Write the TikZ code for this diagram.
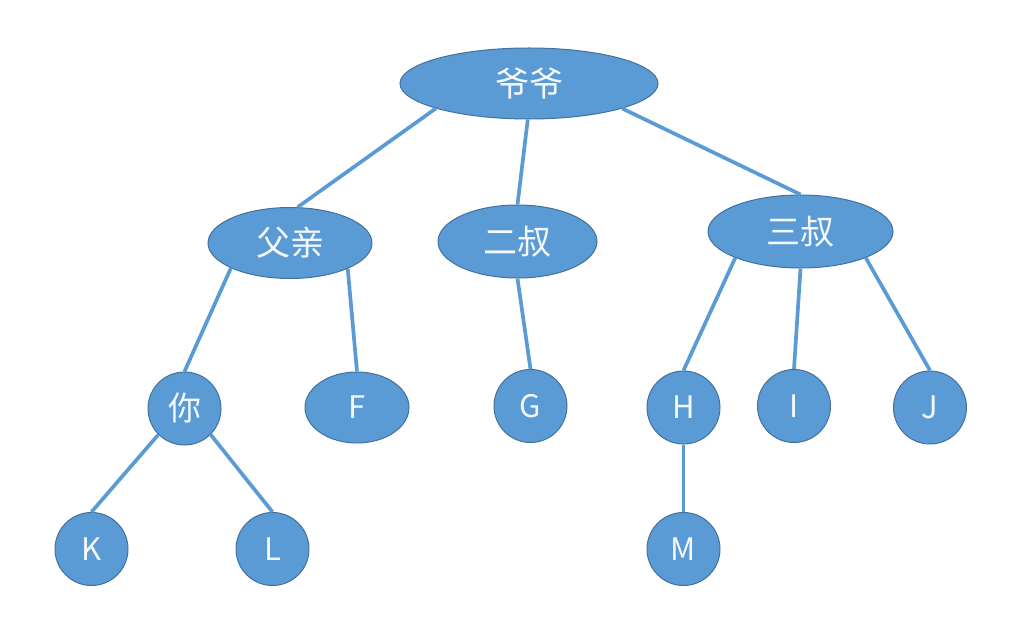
\documentclass[tikz,border=0pt]{standalone}
\usepackage{fontspec}
\setmainfont{Noto Sans CJK SC}
\usetikzlibrary{positioning,shapes.geometric}
\definecolor{nodeblue}{HTML}{5B9BD5}
\definecolor{rimblue}{HTML}{41719C}
\definecolor{textwhite}{HTML}{F4F8FC}
\tikzstyle{person} = [ellipse, draw=rimblue, line width=1pt, fill=nodeblue, text=textwhite, inner sep=0pt, font=\fontsize{34}{40}\selectfont]
\tikzstyle{leaf} = [circle, draw=rimblue, line width=1pt, fill=nodeblue, text=textwhite, inner sep=0pt, minimum size=73pt, font=\fontsize{31}{36}\selectfont]
\tikzstyle{branch} = [draw=nodeblue, line width=3.7pt]
\begin{document}
\begin{tikzpicture}[x=1pt, y=-1pt]
        \useasboundingbox (0,0) rectangle (1026,620);

        \node [person, minimum width=258pt, minimum height=71pt] (yeye) at (529,83.5) {爷爷};
        \node [person, minimum width=164pt, minimum height=71pt] (fuqin) at (290,243) {父亲};
        \node [person, minimum width=159pt, minimum height=73pt] (ershu) at (517.5,241.5) {二叔};
        \node [person, minimum width=185pt, minimum height=73pt] (sanshu) at (800.5,231.5) {三叔};

        \node [leaf, font=\fontsize{33}{38}\selectfont] (ni) at (184.5,408.5) {你};
        \node [leaf, ellipse, minimum width=104pt, minimum height=71pt] (f) at (357,407.5) {F};
        \node [leaf] (g) at (530.5,406) {G};
        \node [leaf] (h) at (683.5,407.5) {H};
        \node [leaf] (i) at (794,406) {I};
        \node [leaf] (j) at (930,407.5) {J};
        \node [leaf] (k) at (91.5,549) {K};
        \node [leaf] (l) at (272.5,549) {L};
        \node [leaf, below of=h, node distance=141.5pt] (m) {M};

        % connectors from border points of the parents
        \draw [branch] (yeye.195) -- (fuqin.78);
        \draw [branch] (yeye.268) -- (ershu.north);
        \draw [branch] (yeye.345) -- (sanshu.north);
        \draw [branch] (fuqin.203) -- (ni.north);
        \draw [branch] (fuqin.336) -- (f.north);
        \draw [branch] (ershu.south) -- (g.north);
        \draw [branch] (sanshu.202) -- (h.north);
        \draw [branch] (sanshu.south) -- (i.north);
        \draw [branch] (sanshu.338) -- (j.north);
        \draw [branch] (ni.south west) -- (k.north);
        \draw [branch] (ni.south east) -- (l.north);
        \draw [branch] (h.south) -- (m.north);
    \end{tikzpicture}
\end{document}
